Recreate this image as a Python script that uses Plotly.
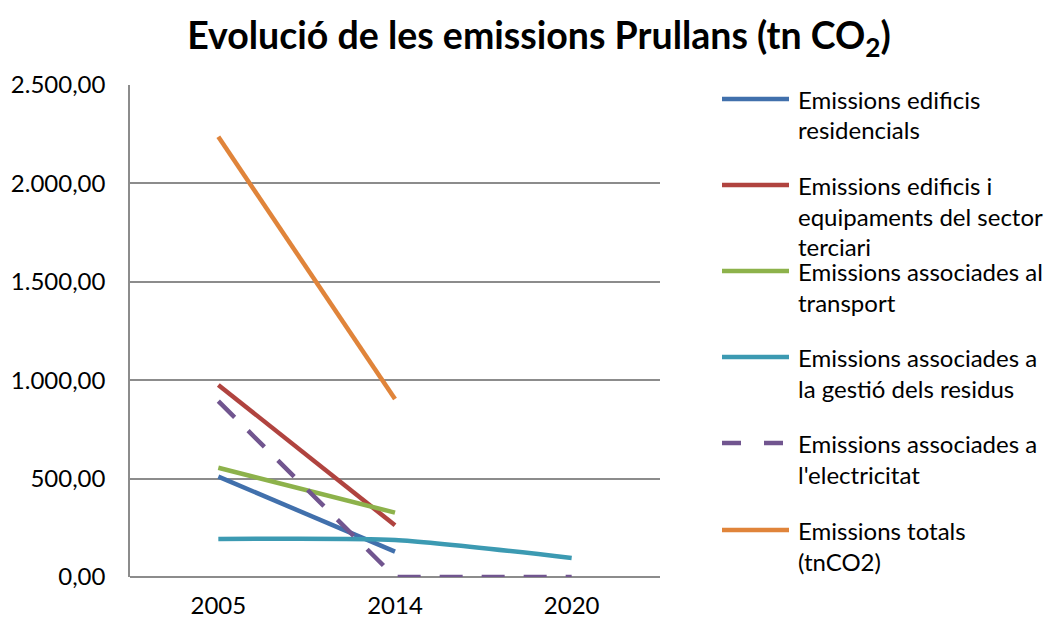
import plotly.graph_objects as go

years = ["2005", "2014", "2020"]
residencial = [510, 129, None]
terciari = [976, 263, None]
transport = [555, 327, None]
residus = [193, 188, 97]
electricitat = [894, 0, 0]
totals = [2237, 904, None]

series_names = [
    ["Emissions edificis", "residencials"],
    ["Emissions edificis i", "equipaments del sector", "terciari"],
    ["Emissions associades al", "transport"],
    ["Emissions associades a", "la gestió dels residus"],
    ["Emissions associades a", "l'electricitat"],
    ["Emissions totals", "(tnCO2)"],
]
series_values = [residencial, terciari, transport, residus, electricitat, totals]
colors = ["#4170AC", "#B0433F", "#8DB24B", "#3C9AB2", "#71558F", "#E0843A"]
dashes = ["solid", "solid", "solid", "solid", "23px,19px", "solid"]
shapes_line = ["linear", "linear", "linear", "spline", "linear", "linear"]

FONT = "Lato"
OFF = 8  # page body margin
W, H = 1057 - OFF, 623 - OFF
# plot area in page pixels
PL, PR, PT, PB = 130, 660, 85, 577
L, R, T, B = PL - OFF, PR - OFF, PT - OFF, PB - OFF

fig = go.Figure()
for name, vals, c, d, s in zip(series_names, series_values, colors, dashes, shapes_line):
    fig.add_trace(go.Scatter(
        x=years, y=vals, mode="lines", name=" ".join(name),
        line=dict(color=c, width=4.5, dash=d, shape=s, smoothing=0.6),
        showlegend=False, connectgaps=False,
    ))

def px_x(px):
    return (px - PL) / (PR - PL)

def px_y(py):
    return (PB - py) / (PB - PT)

shapes = []
annotations = []
swatch_y = [99, 185, 271, 357, 443, 530]
for i, (name, c, d) in enumerate(zip(series_names, colors, dashes)):
    y0 = swatch_y[i]
    if d == "solid":
        shapes.append(dict(type="line", xref="paper", yref="paper",
                           x0=px_x(722), x1=px_x(789), y0=px_y(y0), y1=px_y(y0),
                           line=dict(color=c, width=4.5)))
    else:
        for a, b in [(722, 741), (764, 783)]:
            shapes.append(dict(type="line", xref="paper", yref="paper",
                               x0=px_x(a), x1=px_x(b), y0=px_y(y0), y1=px_y(y0),
                               line=dict(color=c, width=4.5)))
    for k, line in enumerate(name):
        annotations.append(dict(
            xref="paper", yref="paper", x=px_x(796), y=px_y(y0 + 31 * k),
            xanchor="left", yanchor="middle", text=line, showarrow=False,
            font=dict(family=FONT, size=24, color="#000000"), align="left",
        ))

fig.update_layout(
    width=W, height=H,
    margin=dict(l=L, r=W - R, t=T, b=H - B, pad=0, autoexpand=False),
    paper_bgcolor="white", plot_bgcolor="white",
    separators=",.",
    title=dict(
        text="<b>Evolució de les emissions Prullans (tn CO<sub>2</sub>)</b>",
        x=(539 - OFF) / W, xanchor="center", y=1 - (36 - OFF) / H, yanchor="middle",
        font=dict(family=FONT, size=37.5, color="#000000"),
        automargin=False,
    ),
    xaxis=dict(
        type="category", range=[-0.5, 2.5], showgrid=False, showline=False,
        zeroline=False, automargin=False,
        tickfont=dict(family=FONT, size=24, color="#000000"),
        ticks="", ticklabelstandoff=12,
    ),
    yaxis=dict(
        range=[0, 2500], tickvals=[0, 500, 1000, 1500, 2000, 2500],
        tickformat=",.2f", showgrid=True, gridcolor="#8C8C8C", gridwidth=1.5,
        showline=True, linecolor="#8C8C8C", linewidth=1.5,
        zeroline=True, zerolinecolor="#8C8C8C", zerolinewidth=1.5,
        automargin=False,
        tickfont=dict(family=FONT, size=24, color="#000000"),
        ticks="", ticklabelstandoff=18,
    ),
    shapes=shapes, annotations=annotations,
)

fig.write_html("out.html")
